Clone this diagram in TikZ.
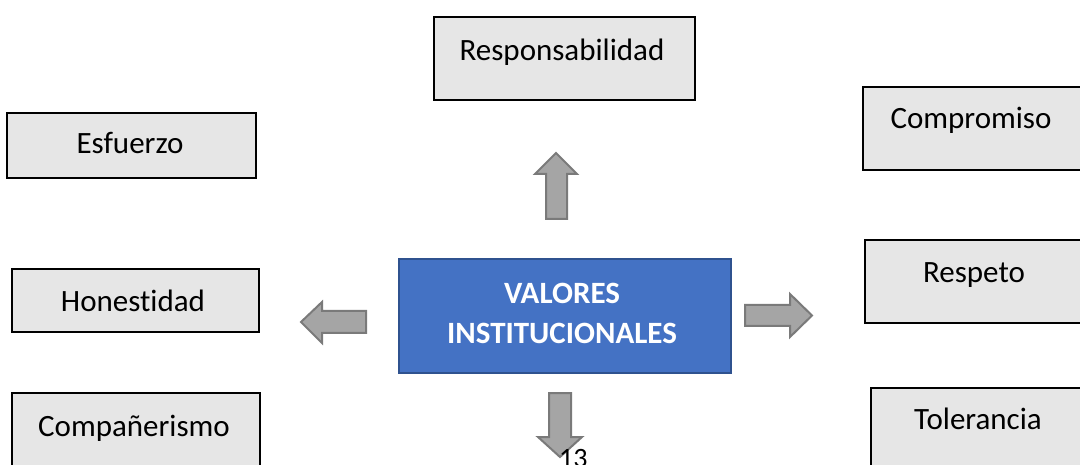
\documentclass[tikz,border=0pt]{standalone}
\usepackage{fontspec}
\setmainfont{Carlito}[Ligatures=NoCommon]
\definecolor{boxfill}{HTML}{E6E6E6}
\definecolor{mainfill}{HTML}{4472C4}
\definecolor{mainborder}{HTML}{2F528F}
\definecolor{arrfill}{HTML}{A5A5A5}
\definecolor{arrborder}{HTML}{7A7A7A}
\begin{document}
\begin{tikzpicture}[x=1pt,y=-1pt,
  valbox/.style={draw=black,fill=boxfill,line width=2pt,rectangle,inner sep=0pt},
  valtext/.style={anchor=base,inner sep=0pt,font=\fontsize{31}{39}\selectfont,text=black},
  mainbox/.style={draw=mainborder,fill=mainfill,line width=2pt,rectangle,inner sep=0pt},
  maintext/.style={inner sep=0pt,align=center,text=white,font=\fontsize{31}{40}\selectfont\bfseries},
  blockarrow/.style={draw=arrborder,fill=arrfill,line width=2pt}]
\useasboundingbox (0,0) rectangle (1080,465);
\clip (0,0) rectangle (1080,465);
% boxes
\node[valbox,minimum width=261pt,minimum height=83pt] (resp) at (564.5,58.5) {};
\node[valtext] (respT) at (562,61) {Responsabilidad};
\node[valbox,minimum width=249pt,minimum height=65pt] (esf) at (131.5,145.5) {};
\node[valtext] (esfT) at (130,154) {Esfuerzo};
\node[valbox,minimum width=247pt,minimum height=63pt] (hon) at (135.5,300.5) {};
\node[valtext] (honT) at (133,312) {Honestidad};
\node[valbox,minimum width=248pt,minimum height=87pt] (comp) at (136,436.5) {};
\node[valtext] (compT) at (134,436) {Compañerismo};
\node[valbox,minimum width=227pt,minimum height=83pt] (compr) at (976.5,128.5) {};
\node[valtext] (comprT) at (971,129) {Compromiso};
\node[valbox,minimum width=225pt,minimum height=83pt] (resp2) at (977.5,281.5) {};
\node[valtext] (resp2T) at (974,283) {Respeto};
\node[valbox,minimum width=219pt,minimum height=92pt] (tol) at (980.5,434) {};
\node[valtext] (tolT) at (978,429) {Tolerancia};
% central box
\node[mainbox,minimum width=332pt,minimum height=114pt] (main) at (565,316) {};
\node[maintext] (mainT) at (562,313) {VALORES\\INSTITUCIONALES};
% block arrows
\draw[blockarrow] (546,219) -- (546,174) -- (535,174) -- (556,153) -- (577,174) -- (567,174) -- (567,219) -- cycle;
\draw[blockarrow] (366,311) -- (322,311) -- (322,302) -- (301,322) -- (322,343) -- (322,333) -- (366,333) -- cycle;
\draw[blockarrow] (745,305) -- (790,305) -- (790,294) -- (812,315.5) -- (790,337) -- (790,326) -- (745,326) -- cycle;
\draw[blockarrow] (549,393) -- (571,393) -- (571,437) -- (582,437) -- (560,457) -- (538,437) -- (549,437) -- cycle;
% page number
\node[anchor=base west,inner sep=0pt,font=\fontsize{28}{34}\selectfont] (pagenum) at (559,467) {13};
\end{tikzpicture}
\end{document}
